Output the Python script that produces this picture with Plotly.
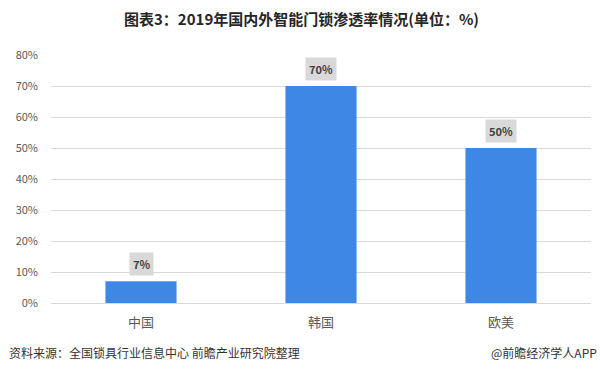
import plotly.graph_objects as go

categories = ["中国", "韩国", "欧美"]
values = [7, 70, 50]
labels = ["7%", "70%", "50%"]
tick_vals = [0, 10, 20, 30, 40, 50, 60, 70, 80]
tick_text = ["0%", "10%", "20%", "30%", "40%", "50%", "60%", "70%", "80%"]

FONT = "Noto Sans CJK SC, Microsoft YaHei, sans-serif"

fig = go.Figure()
fig.add_trace(go.Bar(
    x=categories, y=values,
    marker=dict(color="#3f87e5", line=dict(width=0)),
    width=0.395,
    hoverinfo="skip",
))

for c, v, t in zip(categories, values, labels):
    fig.add_annotation(
        x=c, y=v, text="<b>%s</b>" % t, showarrow=False,
        yanchor="bottom", yshift=5,
        bgcolor="#d9d9d9", borderpad=3,
        font=dict(family=FONT, size=11, color="#404040"),
    )

fig.add_annotation(
    xref="paper", yref="paper", x=0.463, y=1, yshift=37,
    xanchor="center", yanchor="middle", showarrow=False,
    text="<b>图表3：2019年国内外智能门锁渗透率情况(单位：%)</b>",
    font=dict(family=FONT, size=15, color="#262626"),
)
fig.add_annotation(
    xref="paper", yref="paper", x=-0.081, y=0, yshift=-49, xanchor="left", yanchor="middle",
    showarrow=False, text="资料来源：全国锁具行业信息中心 前瞻产业研究院整理",
    font=dict(family=FONT, size=12, color="#333333"),
)
fig.add_annotation(
    xref="paper", yref="paper", x=1.0145, y=0, yshift=-49, xanchor="right", yanchor="middle",
    showarrow=False, text="@前瞻经济学人APP",
    font=dict(family=FONT, size=12, color="#333333"),
)

fig.update_layout(
    width=600, height=369,
    margin=dict(l=51, r=9, t=55, b=66),
    paper_bgcolor="white", plot_bgcolor="white",
    showlegend=False,
    font=dict(family=FONT),
)
fig.update_xaxes(
    showgrid=False, showline=True, linecolor="#d9d9d9", linewidth=1,
    ticks="", tickfont=dict(family=FONT, size=13, color="#595959"),
    ticklabelstandoff=7,
)
fig.update_yaxes(
    range=[0, 80], tickvals=tick_vals, ticktext=tick_text,
    showgrid=True, gridcolor="#d9d9d9", gridwidth=1,
    zeroline=False, showline=False, ticks="",
    tickfont=dict(family=FONT, size=11, color="#595959"),
    ticklabelstandoff=12,
)

fig.write_html(
    "out.html",
    config={"displayModeBar": False},
    post_script="document.body.style.margin='0';document.body.style.padding='0';",
)
